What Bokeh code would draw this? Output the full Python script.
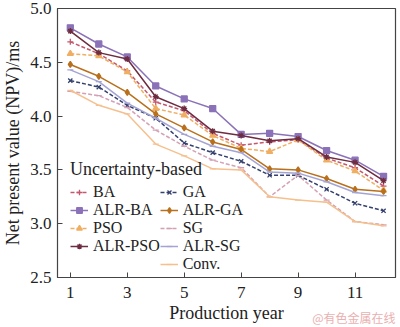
from bokeh.plotting import figure
from bokeh.models import Legend, LegendItem, FixedTicker, PrintfTickFormatter, Range1d, Title
from bokeh.embed import file_html
from bokeh.resources import INLINE

years = [1, 2, 3, 4, 5, 6, 7, 8, 9, 10, 11, 12]
ba      = [4.69, 4.58, 4.42, 4.13, 4.05, 3.84, 3.73, 3.76, 3.78, 3.61, 3.52, 3.35]
alr_ba  = [4.82, 4.67, 4.55, 4.28, 4.16, 4.07, 3.83, 3.84, 3.81, 3.68, 3.59, 3.44]
pso     = [4.58, 4.56, 4.41, 4.07, 4.01, 3.82, 3.70, 3.67, 3.78, 3.59, 3.49, 3.31]
alr_pso = [4.79, 4.59, 4.53, 4.18, 4.07, 3.86, 3.82, 3.77, 3.79, 3.62, 3.57, 3.40]
ga      = [4.33, 4.27, 4.10, 3.98, 3.75, 3.66, 3.58, 3.45, 3.45, 3.32, 3.19, 3.12]
alr_ga  = [4.48, 4.37, 4.22, 4.02, 3.89, 3.76, 3.69, 3.51, 3.50, 3.42, 3.32, 3.30]
sg      = [4.23, 4.19, 4.08, 3.87, 3.72, 3.59, 3.52, 3.25, 3.45, 3.22, 3.02, 2.99]
alr_sg  = [4.43, 4.32, 4.12, 3.98, 3.83, 3.72, 3.66, 3.48, 3.47, 3.39, 3.29, 3.26]
conv    = [4.24, 4.10, 4.02, 3.74, 3.63, 3.51, 3.50, 3.25, 3.22, 3.20, 3.02, 2.98]

x_ticks = [1, 3, 5, 7, 9, 11]
y_ticks = [2.5, 3.0, 3.5, 4.0, 4.5, 5.0]

FONT = "Liberation Serif"

p = figure(width=400, height=327, output_backend="svg", toolbar_location=None,
           x_range=Range1d(0.55, 12.42), y_range=Range1d(2.5, 5.0),
           min_border_left=54, min_border_right=5, min_border_top=8, min_border_bottom=50)
p.grid.visible = False
p.outline_line_color = "#444444"
p.outline_line_width = 1.2
p.background_fill_color = "white"

for ax in (p.xaxis[0], p.yaxis[0]):
    ax.major_tick_in = 5
    ax.major_tick_out = 0
    ax.minor_tick_in = 0
    ax.minor_tick_out = 0
    ax.axis_line_color = "#444444"
    ax.major_tick_line_color = "#444444"
    ax.major_label_text_font = FONT
    ax.major_label_text_font_size = "17px"
    ax.major_label_text_color = "#222222"
    ax.axis_label_text_font = FONT
    ax.axis_label_text_font_size = "18px"
    ax.axis_label_text_font_style = "normal"
    ax.axis_label_text_color = "#222222"

p.xaxis.ticker = FixedTicker(ticks=x_ticks)
p.yaxis.ticker = FixedTicker(ticks=y_ticks)
p.yaxis.formatter = PrintfTickFormatter(format="%.1f")
p.xaxis.axis_label = "Production year"
p.yaxis.axis_label = "Net present value (NPV)/ms"
p.xaxis.axis_label_standoff = 2
p.yaxis.axis_label_standoff = 4
p.xaxis.major_label_standoff = 9
p.yaxis.major_label_standoff = 6

series = [
    ("BA", ba, "#c4586e", "4 2", "cross"),
    ("ALR-BA", alr_ba, "#8b72b8", "solid", "square"),
    ("PSO", pso, "#f0ae62", "4 2", "triangle"),
    ("ALR-PSO", alr_pso, "#6e2c40", "solid", "asterisk"),
    ("GA", ga, "#34406e", "4 2", "x"),
    ("ALR-GA", alr_ga, "#b8701c", "solid", "diamond"),
    ("SG", sg, "#d4a0b4", "4 2", "dash"),
    ("ALR-SG", alr_sg, "#a4a4d4", "solid", "dash"),
    ("Conv.", conv, "#f5c08e", "solid", "dash"),
]

items = []
for name, vals, color, dash, marker in series:
    r1 = p.line(years, vals, line_color=color, line_width=1.5, line_dash=dash)
    r2 = p.scatter(years, vals, marker=marker, size=6, line_color=color,
                   fill_color=color, line_width=1.3)
    items.append(LegendItem(label=name, renderers=[r1, r2]))

# invisible placeholder so the first column holds four entries
blank = p.line([], [], line_alpha=0)
items.insert(4, LegendItem(label=" ", renderers=[blank]))

legend = Legend(items=items, location=(11, 2), nrows=5, orientation="vertical",
                title="Uncertainty-based", title_text_font=FONT,
                title_text_font_size="18px", title_text_font_style="normal",
                title_text_color="#222222", title_standoff=3,
                label_text_font=FONT, label_text_font_size="16px",
                label_text_color="#222222", label_height=14, glyph_height=14,
                glyph_width=18, label_standoff=5, spacing=0, padding=2,
                margin=0, background_fill_alpha=0, border_line_alpha=0)
p.add_layout(legend, "center")

wm = Title(text="@有色金属在线", align="right", vertical_align="top",
           text_font="Noto Sans CJK SC", text_font_size="12px",
           text_font_style="normal", text_color="#eab0b0",
           standoff=-34, offset=0)
p.add_layout(wm, "below")

open("out.html", "w").write(file_html(p, INLINE))
